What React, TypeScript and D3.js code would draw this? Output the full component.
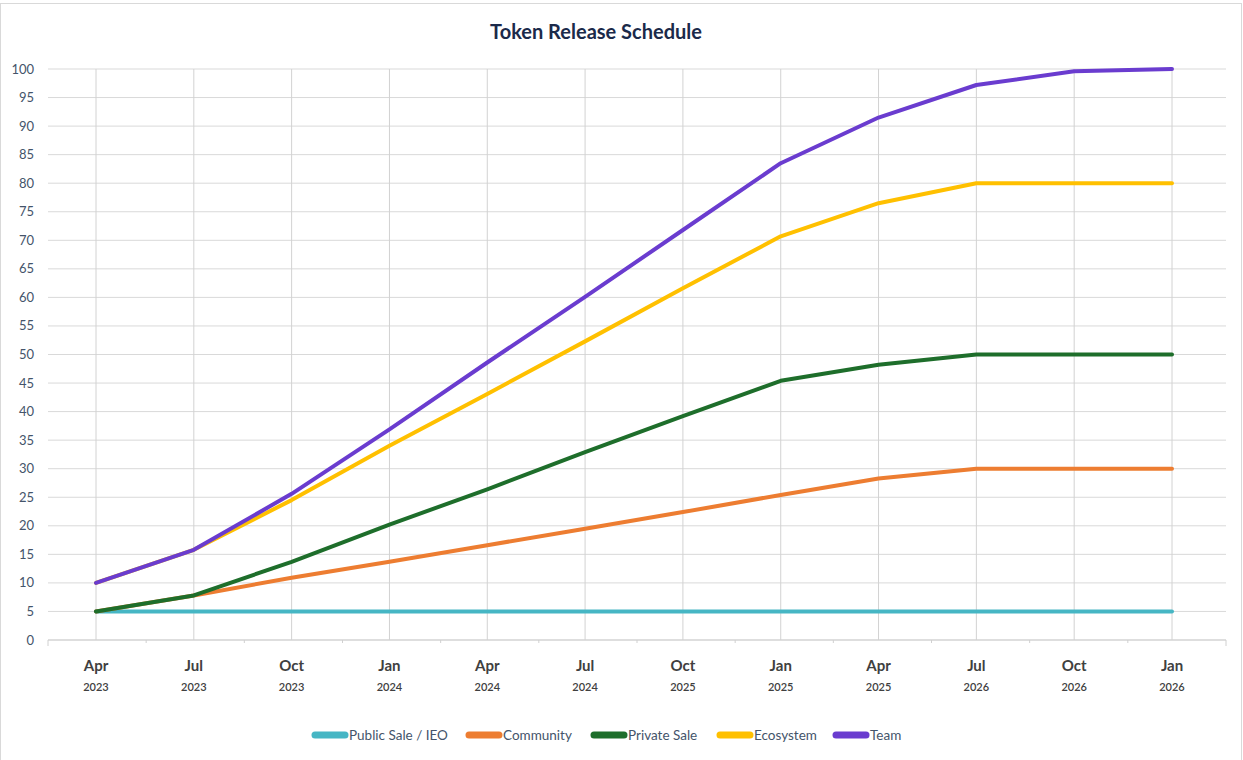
import React from "react";
import * as d3 from "d3";

const months = ["Apr", "Jul", "Oct", "Jan", "Apr", "Jul", "Oct", "Jan", "Apr", "Jul", "Oct", "Jan"];
const years = ["2023", "2023", "2023", "2024", "2024", "2024", "2025", "2025", "2025", "2026", "2026", "2026"];

const publicSale = [5, 5, 5, 5, 5, 5, 5, 5, 5, 5, 5, 5];
const community = [5, 7.8, 10.9, 13.7, 16.6, 19.5, 22.4, 25.4, 28.3, 30, 30, 30];
const privateSale = [5, 7.8, 13.7, 20.2, 26.4, 32.9, 39.2, 45.4, 48.2, 50, 50, 50];
const ecosystem = [10, 15.8, 24.5, 34, 43.1, 52.3, 61.6, 70.7, 76.5, 80, 80, 80];
const team = [10, 15.8, 25.6, 36.9, 48.6, 60.1, 71.8, 83.5, 91.5, 97.2, 99.6, 100];

const seriesNames = ["Public Sale / IEO", "Community", "Private Sale", "Ecosystem", "Team"];
const seriesColors = ["#46B6C4", "#ED7D31", "#1E6E2B", "#FFC000", "#6A3CCF"];
const seriesValues = [publicSale, community, privateSale, ecosystem, team];

const yTicks = d3.range(0, 101, 5);

const W = 1243;
const H = 760;
const left = 48;
const right = 1226;
const top = 69;
const bottom = 640;

export default function App() {
  const idx = months.map((_, i) => String(i));
  const x = d3.scalePoint<string>().domain(idx).range([96, 1172]);
  const cx = (i: number) => x(String(i)) as number;
  const tickX = d3.scaleLinear().domain([0, 12]).range([left, right]);
  const y = d3.scaleLinear().domain([0, 100]).range([bottom, top]);
  const line = d3
    .line<number>()
    .x((_, i) => cx(i))
    .y((d) => y(d));

  const legendX = [312, 466, 591, 717, 833];
  const font = "Lato, 'Open Sans', sans-serif";

  return (
    <svg
      width={W}
      height={H}
      style={{ position: "absolute", left: 0, top: 0, background: "#fff" }}
    >
      <rect x={0.5} y={3.5} width={W - 2} height={H} fill="#fff" stroke="#d9d9d9" />
      <text
        x={596}
        y={39}
        textAnchor="middle"
        fontFamily={font}
        fontWeight={700}
        fontSize={20}
        fill="#1B2A4A"
      >
        Token Release Schedule
      </text>
      {/* horizontal grid */}
      {yTicks.map((t) => (
        <line key={"h" + t} x1={left} x2={right} y1={y(t)} y2={y(t)} stroke="#d9d9d9" strokeWidth={1} />
      ))}
      {/* vertical grid */}
      {idx.map((d, i) => (
        <line key={"v" + i} x1={cx(i)} x2={cx(i)} y1={top} y2={bottom} stroke="#d2d2d2" strokeWidth={1} />
      ))}
      {/* axis */}
      <line x1={left} x2={right} y1={bottom} y2={bottom} stroke="#d0d0d0" />
      {d3.range(13).map((i) => {
        const xx = tickX(i);
        const long = i === 0 || i === 12;
        return <line key={"t" + i} x1={xx} x2={xx} y1={bottom} y2={bottom + (long ? 6 : 3)} stroke="#d0d0d0" />;
      })}
      {/* y labels */}
      {yTicks.map((t) => (
        <text
          key={"yl" + t}
          x={34}
          y={y(t) + 4.5}
          textAnchor="end"
          fontFamily={font}
          fontSize={13}
          fill="#44546A"
        >
          {t}
        </text>
      ))}
      {/* x labels */}
      {months.map((m, i) => (
        <g key={"xl" + i}>
          <text x={cx(i)} y={671} textAnchor="middle" fontFamily={font} fontWeight={700} fontSize={15} fill="#404040">
            {m}
          </text>
          <text x={cx(i)} y={691} textAnchor="middle" fontFamily={font} fontWeight={600} fontSize={11} fill="#404040">
            {years[i]}
          </text>
        </g>
      ))}
      {/* series */}
      {seriesValues.map((vals, s) => (
        <path
          key={"s" + s}
          d={line(vals) as string}
          fill="none"
          stroke={seriesColors[s]}
          strokeWidth={4}
          strokeLinecap="round"
          strokeLinejoin="round"
        />
      ))}
      {/* legend */}
      {seriesNames.map((n, s) => (
        <g key={"lg" + s}>
          <line
            x1={legendX[s] + 3}
            x2={legendX[s] + 33}
            y1={735}
            y2={735}
            stroke={seriesColors[s]}
            strokeWidth={7}
            strokeLinecap="round"
          />
          <text x={legendX[s] + 37} y={739.5} fontFamily={font} fontSize={13.5} fill="#44546A">
            {n}
          </text>
        </g>
      ))}
    </svg>
  );
}
